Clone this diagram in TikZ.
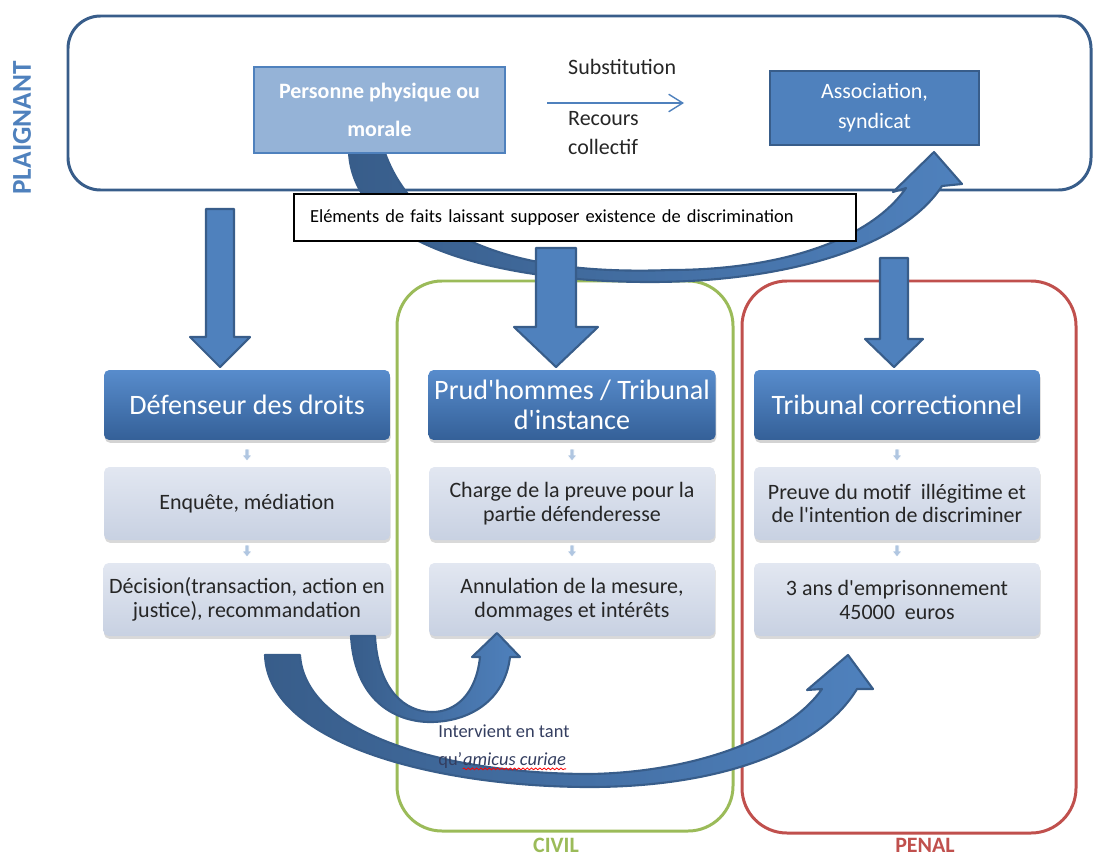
\documentclass[tikz,border=0pt]{standalone}
\usepackage{fontspec}
\setmainfont{Carlito}[Ligatures=TeXOff]
\usetikzlibrary{arrows.meta,shadows,decorations.pathmorphing}
\definecolor{bleu}{RGB}{79,129,189}
\definecolor{bleufonce}{RGB}{56,93,138}
\definecolor{bleuclair}{RGB}{149,179,215}
\definecolor{vertcivil}{RGB}{155,187,89}
\definecolor{rougepenal}{RGB}{192,80,77}
\definecolor{titrehaut}{RGB}{88,140,204}
\definecolor{titrebas}{RGB}{52,96,152}
\definecolor{grishaut}{RGB}{226,231,241}
\definecolor{grisbas}{RGB}{200,209,226}
\definecolor{encre}{RGB}{38,38,38}
\definecolor{ardoise}{RGB}{52,62,96}

\begin{document}
\begin{tikzpicture}[x=0.02cm, y=-0.02cm,
  titre/.style={rounded corners=3pt, top color=titrehaut, bottom color=titrebas, text=white,
    minimum width=5.72cm, minimum height=1.4cm, align=center, font=\fontsize{16}{17}\selectfont,
    drop shadow={opacity=.35, shadow xshift=.4pt, shadow yshift=-1.6pt}},
  etape/.style={rounded corners=3pt, top color=grishaut, bottom color=grisbas, text=encre,
    minimum width=5.72cm, minimum height=1.46cm, align=center, font=\fontsize{12.5}{13.6}\selectfont,
    drop shadow={opacity=.3, shadow xshift=.4pt, shadow yshift=-1.6pt}},
  fleche/.style={fill=bleu, draw=bleufonce, line width=1.2pt, line join=round},
  courbe/.style={left color=bleufonce, right color=bleu, draw=bleufonce, line width=1.2pt, line join=round},
  petite/.style={fill=bleu!45, draw=white, line width=.4pt},
  cadre/.style={rounded corners=0.9cm, line width=1.7pt},
  texte/.style={font=\fontsize{12.5}{17}\selectfont, text=encre},
  groupe/.style={inner sep=0pt, font=\fontsize{12.5}{13}\selectfont\bfseries}]
\useasboundingbox (0,0) rectangle (1094,855);

% cadres
\draw[cadre, draw=bleufonce, rounded corners=0.65cm] (68,16) rectangle (1091,190);
\draw[cadre, draw=vertcivil] (397,281) rectangle (733,831);
\draw[cadre, draw=rougepenal] (742,281) rectangle (1076,833);

% fleche courbe du haut
\filldraw[courbe] (349,153) .. controls (355,250) and (510,282) .. (650,282)
  .. controls (780,282) and (900,250) .. (942,186)
  -- (962,184) -- (934,152) -- (893,192) -- (906,188)
  .. controls (870,240) and (780,270) .. (670,270)
  .. controls (540,275) and (420,250) .. (385,153) -- cycle;

\node[draw=black, fill=white, line width=.8pt, minimum width=11.24cm, minimum height=0.94cm,
  text width=10.6cm, align=left, font=\fontsize{10.5}{12}\selectfont] (elements) at (575,217.5)
  {Eléments de faits laissant supposer existence de discrimination};

% fleches vers le bas
\foreach \cx/\haut/\col/\pointe/\demi/\aile in {220/209/337/367/14/30, 556/248/327/367/20/42, 894/258/339/367/14/29}
  \filldraw[fleche] (\cx-\demi,\haut) -- (\cx+\demi,\haut) -- (\cx+\demi,\col) -- (\cx+\aile,\col)
    -- (\cx,\pointe) -- (\cx-\aile,\col) -- (\cx-\demi,\col) -- cycle;

% plaignant
\node[rotate=90, font=\fontsize{15.5}{16}\selectfont\bfseries, text=bleu] (plaignant) at (22,128) {PLAIGNANT};
\node[fill=bleuclair, draw=bleu, line width=1.5pt, minimum width=5.02cm, minimum height=1.72cm,
  align=center, text=white, font=\fontsize{12.5}{21.5}\selectfont\bfseries] (personne) at (379.5,110)
  {Personne physique ou\\morale};
\node[fill=bleu, draw=bleufonce, line width=1.5pt, minimum width=4.18cm, minimum height=1.48cm,
  align=center, text=white, font=\fontsize{12.5}{17}\selectfont] (asso) at (874.5,108)
  {Association,\\syndicat};
\node[texte, anchor=west] (substitution) at (562,67) {Substitution};
\node[texte, anchor=west, align=left] (recours) at (562,133) {Recours\\collectif};
\coordinate (subst-a) at (547,103);
\coordinate (subst-b) at (684,103);
\draw[bleu, line width=.8pt, -{Straight Barb[length=8pt,width=10pt]}] (subst-a) -- (subst-b);

% colonnes
\node[titre] (defenseur) at (247,405) {Défenseur des droits};
\node[etape] (enquete) at (247,503.5) {Enquête, médiation};
\node[etape] (decision) at (247,599.5) {Décision(transaction, action en\\justice), recommandation};
\node[titre] (prudhommes) at (572,405) {Prud'hommes / Tribunal\\d'instance};
\node[etape] (charge) at (572,503.5) {Charge de la preuve pour la\\partie défenderesse};
\node[etape] (annulation) at (572,599.5) {Annulation de la mesure,\\dommages et intérêts};
\node[titre] (correctionnel) at (897,405) {Tribunal correctionnel};
\node[etape] (preuve) at (897,503.5) {Preuve du motif\ \ illégitime et\\de l'intention de discriminer};
\node[etape] (peine) at (897,599.5) {3 ans d'emprisonnement\\45000\ \ euros};

\foreach \cx in {247,572,897}
  \foreach \cy in {455,551}
    \filldraw[petite] (\cx-2,\cy-6) -- (\cx+2,\cy-6) -- (\cx+2,\cy) -- (\cx+5,\cy) -- (\cx,\cy+6)
      -- (\cx-5,\cy) -- (\cx-2,\cy) -- cycle;

% fleches du bas
\filldraw[courbe] (351,636) .. controls (355,705) and (400,722) .. (430,722)
  .. controls (470,722) and (505,700) .. (510,657)
  -- (520,657) -- (497,633) -- (472,657) -- (480,657)
  .. controls (476,695) and (455,712) .. (432,712)
  .. controls (405,712) and (378,690) .. (375,636) -- cycle;
\filldraw[courbe] (265,655) .. controls (268,745) and (440,787) .. (590,787)
  .. controls (720,787) and (820,750) .. (857,689)
  -- (873,689) -- (848,655) -- (807,690) -- (822,689)
  .. controls (790,735) and (700,772) .. (590,774)
  .. controls (450,774) and (305,735) .. (300,655) -- cycle;

\node[anchor=base west, inner sep=0, text=ardoise, font=\fontsize{10.5}{12}\selectfont] (intervient) at (438,737) {Intervient en tant};
\node[anchor=base west, inner sep=0, text=ardoise, font=\fontsize{10.5}{12}\selectfont] (qu) at (438,765) {qu’};
\node[anchor=base west, inner sep=0, text=ardoise, font=\fontsize{10.5}{12}\selectfont\itshape] (amicus) at (qu.base east) {amicus curiae};
\draw[red, line width=.45pt, decorate, decoration={snake, amplitude=.5pt, segment length=2.4pt}]
  ([yshift=-2.2pt]amicus.base west) -- ([yshift=-2.2pt]amicus.base east);

\node[groupe, text=vertcivil] (civil) at (556,845) {CIVIL};
\node[groupe, text=rougepenal] (penal) at (925,845) {PENAL};
\end{tikzpicture}
\end{document}
